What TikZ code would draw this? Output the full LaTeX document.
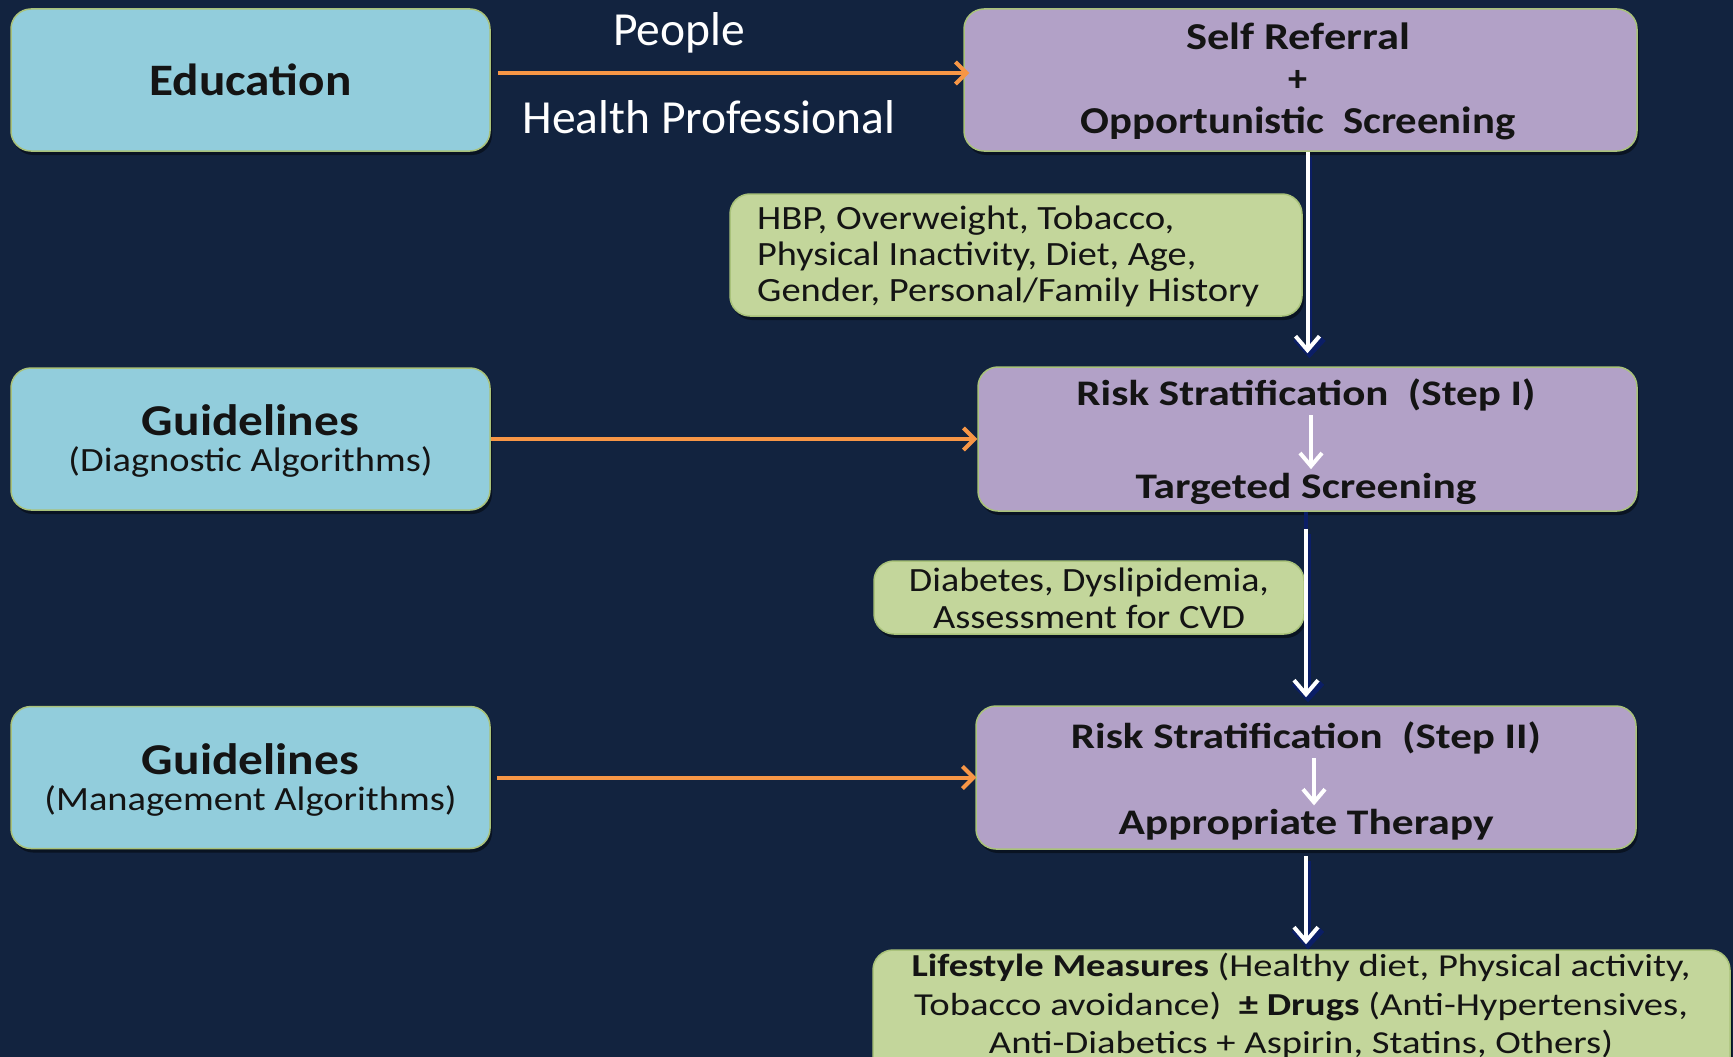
\documentclass[tikz,border=0pt]{standalone}
\usepackage{fontspec}
\usepackage{graphicx}
\setmainfont{Carlito}
\usetikzlibrary{arrows.meta,shadows}

\definecolor{bgnavy}{HTML}{12233F}
\definecolor{boxblue}{HTML}{92CDDC}
\definecolor{boxpurple}{HTML}{B2A1C7}
\definecolor{boxgreen}{HTML}{C3D69B}
\definecolor{edgegreen}{HTML}{A9C27A}
\definecolor{arroworange}{HTML}{F79646}
\definecolor{inkdark}{HTML}{141414}
\definecolor{tipnavy}{HTML}{0B1E66}

% stretch a line of text horizontally to a given width, keeping its height
\newcommand\fitto[2]{\resizebox{#1}{\height}{#2}}

\tikzset{
  card/.style={rectangle, rounded corners=20pt, draw=edgegreen, line width=1.5pt,
    inner sep=0pt,
    drop shadow={shadow xshift=2pt, shadow yshift=-4pt, opacity=0.45, fill=black}},
  bluecard/.style={card, fill=boxblue, minimum width=479pt, minimum height=142pt},
  purplecard/.style={card, fill=boxpurple},
  greencard/.style={card, fill=boxgreen},
  label/.style={inner sep=0pt, text=inkdark, align=center},
  feed/.style={draw=arroworange, line width=4pt, -{Straight Barb[length=11pt,width=22pt,line width=4pt]}},
  flowshade/.style={draw=tipnavy, line width=5pt, -{Straight Barb[length=15pt,width=28pt,line width=6pt]}},
  flow/.style={draw=white, line width=4pt, -{Straight Barb[length=14pt,width=24pt,line width=4pt]}},
  innerflow/.style={draw=white, line width=4pt, -{Straight Barb[length=13pt,width=22pt,line width=4pt]}},
}

\begin{document}
\begin{tikzpicture}[x=1pt, y=-1pt]
  \useasboundingbox (0,0) rectangle (1733,1057);
  \fill[bgnavy] (0,0) rectangle (1733,1057);
  \clip (0,0) rectangle (1733,1057);

  % left column: inputs
  \node[bluecard] (edu) at (250.5,80) {};
  \node[label, font=\fontsize{45}{50}\selectfont\bfseries] (edut) at (250.5,80) {\fitto{202pt}{Education}};

  \node[bluecard] (gdiag) at (250.5,439) {};
  \node[label, font=\fontsize{44}{48}\selectfont\bfseries] (gdiagt) at (250.5,420) {\fitto{217pt}{Guidelines}};
  \node[label, font=\fontsize{34}{38}\selectfont] (gdiags) at (250.5,462) {\fitto{364pt}{(Diagnostic Algorithms)}};

  \node[bluecard] (gman) at (250.5,777.5) {};
  \node[label, font=\fontsize{44}{48}\selectfont\bfseries] (gmant) at (250.5,759) {\fitto{217pt}{Guidelines}};
  \node[label, font=\fontsize{34}{38}\selectfont] (gmans) at (250.5,801) {\fitto{412pt}{(Management Algorithms)}};

  % right column: screening pathway
  \node[purplecard, minimum width=673pt, minimum height=142pt] (self) at (1300.5,80) {};
  \node[label, font=\fontsize{38}{42}\selectfont\bfseries] (selft) at (1298,81)
    {\fitto{224pt}{Self Referral}\\ +\\ \fitto{435pt}{Opportunistic~~Screening}};

  \node[greencard, minimum width=572pt, minimum height=122pt] (risk1) at (1016,255) {};
  \node[label, align=left, anchor=west, font=\fontsize{34}{36}\selectfont] (risk1t) at (757,256)
    {\fitto{417pt}{HBP, Overweight, Tobacco,}\\
     \fitto{439pt}{Physical Inactivity, Diet, Age,}\\
     \fitto{502pt}{Gender, Personal/Family History}};

  \node[purplecard, minimum width=659pt, minimum height=144pt] (step1) at (1307.5,439) {};
  \node[label, font=\fontsize{36}{40}\selectfont\bfseries] (step1a) at (1306,395) {\fitto{459pt}{Risk Stratification~ (Step I)}};
  \node[label, font=\fontsize{36}{40}\selectfont\bfseries] (step1b) at (1306,489) {\fitto{341pt}{Targeted Screening}};

  \node[greencard, minimum width=430pt, minimum height=73pt] (risk2) at (1089,597.5) {};
  \node[label, font=\fontsize{34}{37}\selectfont] (risk2t) at (1089,598)
    {\fitto{360pt}{Diabetes, Dyslipidemia,}\\ \fitto{312pt}{Assessment for CVD}};

  \node[purplecard, minimum width=660pt, minimum height=143pt] (step2) at (1306,777.5) {};
  \node[label, font=\fontsize{36}{40}\selectfont\bfseries] (step2a) at (1306,738) {\fitto{470pt}{Risk Stratification~ (Step II)}};
  \node[label, font=\fontsize{36}{40}\selectfont\bfseries] (step2b) at (1306,825) {\fitto{375pt}{Appropriate Therapy}};

  \node[greencard, minimum width=857pt, minimum height=150pt] (life) at (1301.5,1025) {};
  \node[label, font=\fontsize{32}{38.5}\selectfont] (lifet) at (1301,1006)
    {\fitto{779pt}{\textbf{Lifestyle Measures} (Healthy diet, Physical activity,}\\
     \fitto{774pt}{Tobacco avoidance)~ \textbf{± Drugs} (Anti-Hypertensives,}\\
     \fitto{624pt}{Anti-Diabetics + Aspirin, Statins, Others)}};

  % labels on the education arrow
  \node[inner sep=0pt, text=white, font=\fontsize{47.5}{50}\selectfont] (people) at (679,33) {People};
  \node[inner sep=0pt, text=white, font=\fontsize{47.5}{50}\selectfont] (hprof) at (709,117) {Health Professional};

  % feeding arrows
  \draw[feed] ([xshift=7pt,yshift=7pt]edu.east) -- ([xshift=6pt,yshift=7pt]self.west);
  \draw[feed] (gdiag.east) -- (step1.west);
  \draw[feed] ([xshift=6pt]gman.east) -- ([xshift=1pt]step2.west);

  % main downward flow, each with a dark shadow behind the white arrow
  \coordinate (f1s) at (step1.north |- self.south);
  \coordinate (f1e) at ([yshift=13pt]step1.north);
  \coordinate (f2s) at ([yshift=-17pt]step2.north |- step1.south);
  \coordinate (f2e) at ([yshift=8pt]step2.north);
  \coordinate (f3s) at ([yshift=-6pt]step2.south);
  \coordinate (f3e) at ([yshift=5pt]life.north -| step2.south);

  \draw[tipnavy, line width=4pt] (step2.north |- step1.south) -- (f2s);
  \foreach \a/\b in {f1s/f1e, f2s/f2e, f3s/f3e} {
    \draw[flowshade] ([xshift=2pt,yshift=-5pt]\a) -- ([xshift=2pt,yshift=-5pt]\b);
    \draw[flow] (\a) -- (\b);
  }

  % steps inside the stratification boxes
  \draw[innerflow] ([xshift=5pt,yshift=-4pt]step1a.south) coordinate (s1top) -- ([yshift=4pt]s1top |- step1b.north);
  \draw[innerflow] ([xshift=8pt,yshift=-4pt]step2a.south) coordinate (s2top) -- ([yshift=4pt]s2top |- step2b.north);
\end{tikzpicture}
\end{document}
